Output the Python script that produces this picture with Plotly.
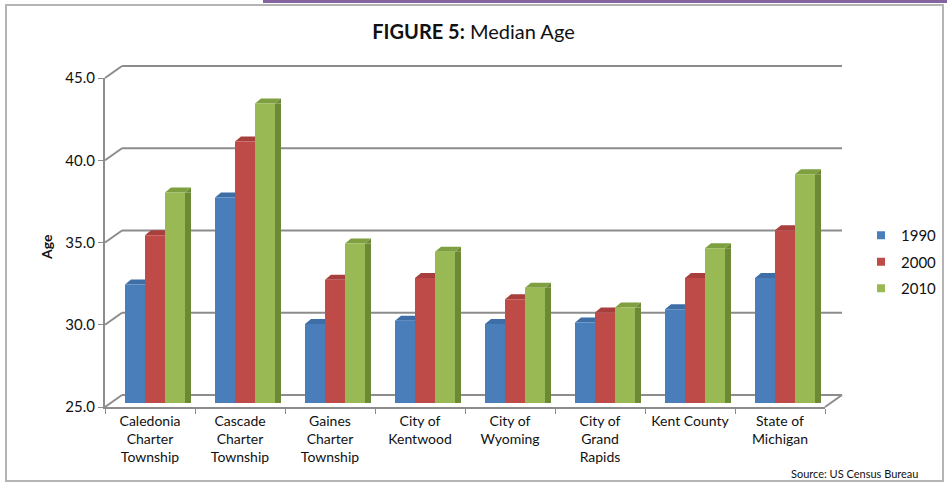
import plotly.graph_objects as go

# ---- data ----
categories = [
    "Caledonia<br>Charter<br>Township",
    "Cascade<br>Charter<br>Township",
    "Gaines<br>Charter<br>Township",
    "City of<br>Kentwood",
    "City of<br>Wyoming",
    "City of<br>Grand<br>Rapids",
    "Kent County",
    "State of<br>Michigan",
]
years = ["1990", "2000", "2010"]
age_1990 = [32.2, 37.5, 29.8, 30.0, 29.8, 29.9, 30.7, 32.6]
age_2000 = [35.2, 40.9, 32.5, 32.6, 31.3, 30.5, 32.6, 35.5]
age_2010 = [37.8, 43.2, 34.7, 34.2, 32.0, 30.8, 34.4, 38.9]
series = [age_1990, age_2000, age_2010]
y_ticks = [25, 30, 35, 40, 45]

# ---- styling ----
W, H = 947, 482
ML, MR, MT, MB = 105, 122, 78, 75
PW = W - ML - MR
PH = H - MT - MB
DEPTH_X, DEPTH_Y = 17, 12
BAR_LIFT = 4  # bars stand slightly behind the front edge of the floor
front = ["#4A7EBB", "#BE4B48", "#98B954"]
side = ["#345C8C", "#8E3533", "#6C8A35"]
top = ["#3F6DA6", "#A83F3D", "#7FA041"]
font_family = "Lato, 'Open Sans', sans-serif"
grid_col = "#8C8C8C"

bar_w = 20 / 90
offsets = [-25 / 90, -5 / 90, 15 / 90]
side_w = 6 / 90
ymin, ymax = y_ticks[0], y_ticks[-1]
lift = BAR_LIFT * (ymax - ymin) / PH


def px(x):
    return (x - ML) / PW


def py(y):
    return (H - MB - y) / PH


fig = go.Figure()

# side faces (drawn first, neighbours cover them)
for i, vals in enumerate(series):
    fig.add_trace(go.Bar(
        x=categories, y=[v - ymin for v in vals], base=ymin, yaxis="y2",
        offset=offsets[i] + bar_w, width=side_w,
        marker=dict(color=side[i], line=dict(width=0)),
        showlegend=False, hoverinfo="skip",
    ))

# front faces
for i, vals in enumerate(series):
    fig.add_trace(go.Bar(
        x=categories, y=[v - ymin for v in vals], base=ymin, yaxis="y2",
        offset=offsets[i], width=bar_w, name=years[i],
        marker=dict(color=front[i], line=dict(width=0)),
        showlegend=False,
    ))

# legend entries
for i, yr in enumerate(years):
    fig.add_trace(go.Scatter(
        x=[None], y=[None], mode="markers", name=yr, legendgroup=yr,
        marker=dict(symbol="square", size=8, color=front[i]),
    ))

shapes = []
# back wall gridlines + left wall diagonals
for v in y_ticks:
    frac = (v - ymin) / (ymax - ymin)
    shapes.append(dict(type="line", layer="below", xref="x domain", yref="y domain",
                       x0=DEPTH_X / PW, x1=1 + DEPTH_X / PW,
                       ysizemode="pixel", yanchor=frac, y0=DEPTH_Y, y1=DEPTH_Y,
                       line=dict(color=grid_col, width=2)))
    shapes.append(dict(type="line", layer="below", xref="x domain", yref="y domain",
                       x0=0, x1=DEPTH_X / PW,
                       ysizemode="pixel", yanchor=frac, y0=0, y1=DEPTH_Y,
                       line=dict(color=grid_col, width=2)))
# right floor edge
shapes.append(dict(type="line", layer="below", xref="x domain", yref="y domain",
                   x0=1, x1=1 + DEPTH_X / PW,
                   ysizemode="pixel", yanchor=0, y0=0, y1=DEPTH_Y,
                   line=dict(color=grid_col, width=2)))

# top faces and side-top triangles of each bar (anchored at the bar value,
# lifted by the same pixel amount as the bars on the secondary axis)
wpx = 20
L = BAR_LIFT
for i, vals in enumerate(series):
    for c, v in enumerate(vals):
        shapes.append(dict(type="path", layer="between", xref="x", yref="y",
                           xsizemode="pixel", ysizemode="pixel",
                           xanchor=c + offsets[i], yanchor=v,
                           path=f"M0,{L} L6,{L+5} L{wpx+6},{L+5} L{wpx},{L} Z",
                           fillcolor=top[i], line=dict(width=0)))
        shapes.append(dict(type="path", layer="between", xref="x", yref="y",
                           xsizemode="pixel", ysizemode="pixel",
                           xanchor=c + offsets[i], yanchor=v,
                           path=f"M{wpx},{L} L{wpx+6},{L+5} L{wpx+6},{L} Z",
                           fillcolor=side[i], line=dict(width=0)))

# outer frame and purple bar
shapes.append(dict(type="rect", xref="paper", yref="paper",
                   x0=px(6), x1=px(943), y0=py(481), y1=py(5),
                   line=dict(color="#B4B4B4", width=2)))
shapes.append(dict(type="rect", xref="paper", yref="paper",
                   x0=px(263), x1=px(947), y0=py(3), y1=py(0),
                   fillcolor="#8464A0", line=dict(width=0)))

annotations = [
    dict(text="<b>Age</b>", textangle=-90, xref="paper", yref="paper",
         x=px(47), y=py(247), xanchor="center", yanchor="middle", showarrow=False,
         font=dict(size=14, color="#111")),
    dict(text="Source: US Census Bureau", xref="paper", yref="paper",
         x=px(920), y=py(473), xanchor="right", yanchor="middle", showarrow=False,
         font=dict(size=11, color="#111")),
]

fig.update_layout(
    width=W, height=H,
    margin=dict(l=ML, r=MR, t=MT, b=MB, autoexpand=False),
    paper_bgcolor="white", plot_bgcolor="rgba(0,0,0,0)",
    font=dict(family=font_family, color="#111"),
    barmode="overlay",
    title=dict(text="<b>FIGURE 5:</b> Median Age", x=0.5, xanchor="center",
               xref="container", yref="container", y=1 - 32 / H, yanchor="middle",
               font=dict(size=20, color="#111")),
    xaxis=dict(type="category", showgrid=False, showline=True, linecolor=grid_col,
               linewidth=2, ticks="outside", tickson="boundaries", ticklen=5,
               tickcolor=grid_col, tickfont=dict(size=14), range=[-0.5, 7.5]),
    yaxis=dict(range=[ymin, ymax], tickvals=y_ticks, tickformat=".1f",
               showgrid=False, zeroline=False, showline=True, linecolor=grid_col,
               linewidth=2, ticks="outside", ticklen=5, tickcolor=grid_col,
               tickfont=dict(size=15)),
    yaxis2=dict(range=[ymin - lift, ymax - lift], overlaying="y", visible=False,
                showgrid=False, zeroline=False),
    legend=dict(x=px(861), y=py(219), xanchor="left", yanchor="top",
                font=dict(size=15), tracegroupgap=4, traceorder="grouped",
                bgcolor="rgba(0,0,0,0)"),
    shapes=shapes,
    annotations=annotations,
)

fig.write_html("out.html")
